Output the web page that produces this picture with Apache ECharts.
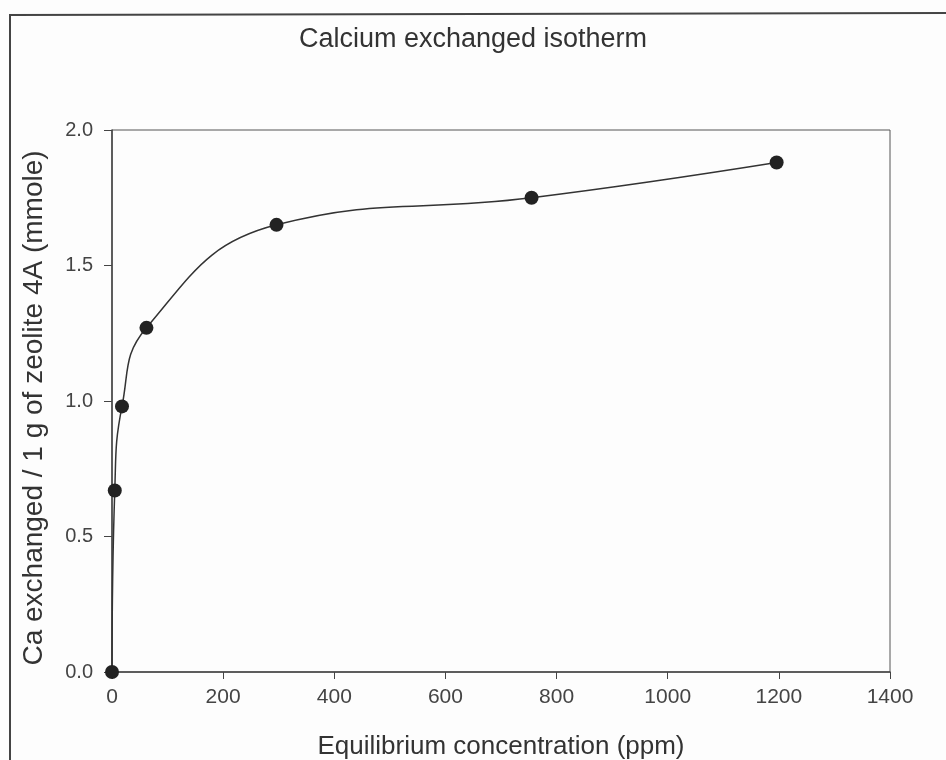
<!DOCTYPE html>
<html>
<head>
<meta charset="utf-8">
<script src="https://cdn.jsdelivr.net/npm/echarts@6/dist/echarts.min.js"></script>
<style>
html,body{margin:0;padding:0;background:#fdfdfd;}
#chart{width:946px;height:760px;}
</style>
</head>
<body>
<div id="chart"></div>
<script>
var titleText = 'Calcium exchanged isotherm';
var xName = 'Equilibrium concentration (ppm)';
var yName = 'Ca exchanged / 1 g of zeolite 4A (mmole)';
var concentration = [0, 5, 18, 62, 296, 755, 1196];
var exchanged = [0, 0.67, 0.98, 1.27, 1.65, 1.75, 1.88];

var chart = echarts.init(document.getElementById('chart'));
var font = '"Liberation Sans", Arial, sans-serif';
chart.setOption({
  backgroundColor: '#fdfdfd',
  animation: false,
  title: {
    text: titleText, left: 'center', top: 21,
    textStyle: {fontFamily: font, fontSize: 27, fontWeight: 'normal', color: '#333'}
  },
  graphic: [{
    type: 'polyline', silent: true,
    shape: {points: [[10, 760], [10, 15], [946, 13]]},
    style: {stroke: '#444', lineWidth: 2, fill: null}
  }],
  grid: {left: 112, right: 56, top: 130, bottom: 88, show: true, borderColor: '#555', borderWidth: 1,
    containLabel: false, outerBoundsMode: 'none'},
  xAxis: {
    type: 'value', min: 0, max: 1400, interval: 200,
    name: xName, nameLocation: 'middle', nameGap: 62,
    nameTextStyle: {fontFamily: font, fontSize: 26, color: '#333'},
    axisLine: {lineStyle: {color: '#444', width: 1.5}},
    axisTick: {length: 7, lineStyle: {color: '#444'}},
    axisLabel: {fontFamily: font, fontSize: 21, color: '#444', margin: 15,
      formatter: function (v) { return String(v); }},
    splitLine: {show: false}
  },
  yAxis: {
    type: 'value', min: 0, max: 2, interval: 0.5,
    name: yName, nameLocation: 'middle', nameGap: 64,
    nameTextStyle: {fontFamily: font, fontSize: 28, color: '#333', padding: [0, 14, 0, 0]},
    axisLine: {lineStyle: {color: '#444', width: 1.5}},
    axisTick: {length: 8, lineStyle: {color: '#444'}},
    axisLabel: {fontFamily: font, fontSize: 20, color: '#444', margin: 19,
      formatter: function (v) { return v.toFixed(1); }},
    splitLine: {show: false}
  },
  series: [{
    type: 'line',
    data: concentration.map(function (x, i) { return [x, exchanged[i]]; }),
    smooth: 0.45,
    symbol: 'circle', symbolSize: 14,
    itemStyle: {color: '#222'},
    lineStyle: {color: '#333', width: 1.5}
  }]
});
</script>
</body>
</html>
